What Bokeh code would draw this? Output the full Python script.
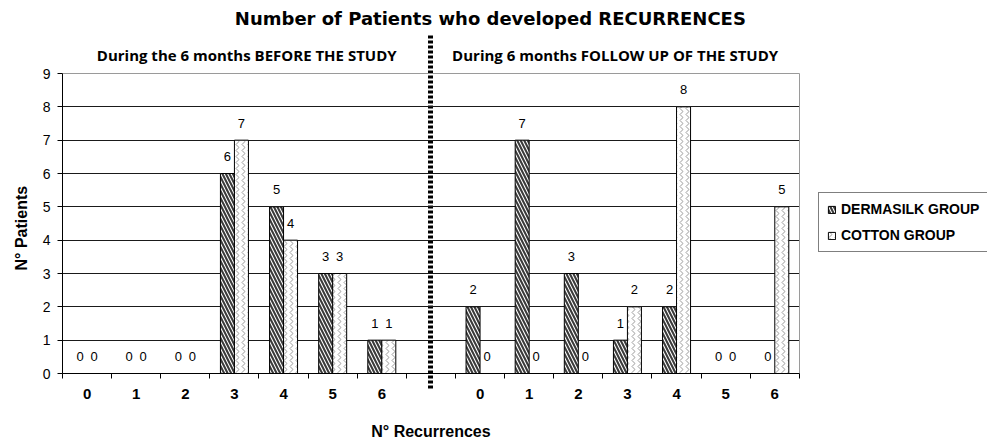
from bokeh.plotting import figure
from bokeh.models import (ColumnDataSource, FixedTicker, LinearAxis, Grid, Title,
                          Legend, LegendItem)
from bokeh.core.properties import value
from bokeh.embed import file_html
from bokeh.resources import INLINE

# ---- data ----
categories = ["0", "1", "2", "3", "4", "5", "6"]
before_dermasilk = [0, 0, 0, 6, 5, 3, 1]
before_cotton = [0, 0, 0, 7, 4, 3, 1]
after_dermasilk = [2, 7, 3, 1, 2, 0, 0]
after_cotton = [0, 0, 0, 2, 8, 0, 5]
series_names = ["DERMASILK GROUP", "COTTON GROUP"]
title_text = "Number of Patients who developed RECURRENCES"
subtitle_before = "During the 6 months BEFORE THE STUDY"
subtitle_after = "During 6 months FOLLOW UP OF THE STUDY"
x_title = "N° Recurrences"
y_title = "N° Patients"
y_ticks = list(range(10))

n = len(categories)
slots_before = [i + 0.5 for i in range(n)]
slots_after = [n + 1 + i + 0.5 for i in range(n)]
centers = slots_before + slots_after
derm_vals = before_dermasilk + after_dermasilk
cot_vals = before_cotton + after_cotton
total_slots = 2 * n + 1
divider = n + 0.5
y_max = y_ticks[-1]
bw = 0.285

derm_src = ColumnDataSource(dict(x=[c - bw / 2 for c in centers], top=derm_vals,
                                 lbl=[str(v) for v in derm_vals]))
cot_src = ColumnDataSource(dict(x=[c + bw / 2 for c in centers], top=cot_vals,
                                lbl=[str(v) for v in cot_vals]))

p = figure(width=987, height=445, output_backend="svg", toolbar_location=None,
           x_range=(0, 18.83), y_range=(0, 11.19),
           min_border_left=62, min_border_right=0, min_border_top=0,
           min_border_bottom=72)
p.background_fill_color = "white"
p.border_fill_color = "white"
p.outline_line_color = None

r1 = p.vbar(x="x", top="top", width=bw, bottom=0, source=derm_src,
            fill_color="white", line_color="black", line_width=1,
            hatch_pattern="\\", hatch_color="#3a3a3a", hatch_weight=2.1, hatch_scale=7)
r2 = p.vbar(x="x", top="top", width=bw, bottom=0, source=cot_src,
            fill_color="white", line_color="black", line_width=1,
            hatch_pattern=">", hatch_color="#9a9a9a", hatch_weight=1, hatch_scale=6)

for src in (derm_src, cot_src):
    p.text(x="x", y="top", text="lbl", source=src, y_offset=-17,
           text_align="center", text_baseline="middle",
           text_font=value("Liberation Sans"), text_font_size="13px",
           text_color="black")

# ---- x axes: tick/divider axis + category label axis + title axis ----
xa = p.xaxis[0]
xa.bounds = (0, total_slots)
xa.ticker = FixedTicker(ticks=[divider], minor_ticks=list(range(total_slots + 1)))
xa.major_label_overrides = {divider: ""}
xa.major_tick_out = 15
xa.major_tick_in = 0
xa.major_tick_line_width = 5
xa.major_tick_line_dash = "3 2"
xa.major_tick_line_color = "black"
xa.minor_tick_out = 5
xa.minor_tick_in = 0
xa.minor_tick_line_color = "black"
xa.axis_line_color = "black"
xa.major_label_standoff = 0
xa.major_label_text_font_size = "0px"

xl = LinearAxis(bounds=(0, total_slots),
                ticker=FixedTicker(ticks=centers, minor_ticks=[]))
xl.major_label_overrides = {c: lab for c, lab in zip(centers, categories + categories)}
xl.axis_line_color = None
xl.major_tick_line_color = None
xl.major_tick_out = 0
xl.major_tick_in = 0
xl.minor_tick_line_color = None
xl.major_label_standoff = 0
xl.major_label_text_font = "Liberation Sans"
xl.major_label_text_font_style = "bold"
xl.major_label_text_font_size = "15px"
xl.major_label_text_color = "black"
p.add_layout(xl, "below")

xt = LinearAxis(bounds=(0, total_slots),
                ticker=FixedTicker(ticks=[divider], minor_ticks=[]))
xt.major_label_overrides = {divider: x_title}
xt.axis_line_color = None
xt.major_tick_line_color = None
xt.major_tick_out = 0
xt.major_tick_in = 0
xt.minor_tick_line_color = None
xt.major_label_standoff = 21
xt.major_label_text_font = "Liberation Sans"
xt.major_label_text_font_style = "bold"
xt.major_label_text_font_size = "16px"
xt.major_label_text_color = "black"
p.add_layout(xt, "below")

# ---- y axis ----
ya = p.yaxis[0]
ya.bounds = (0, y_max)
ya.ticker = FixedTicker(ticks=y_ticks)
ya.major_tick_out = 5
ya.major_tick_in = 0
ya.minor_tick_line_color = None
ya.axis_line_color = "black"
ya.major_tick_line_color = "black"
ya.major_label_standoff = 7
ya.major_label_text_font = "Liberation Sans"
ya.major_label_text_font_size = "14px"
ya.major_label_text_color = "black"

p.add_layout(Title(text=y_title, align="left", offset=103, standoff=20,
                   text_font="Liberation Sans", text_font_style="bold",
                   text_font_size="16px", text_color="black"), "left")

# ---- grids, plot-area border and period divider ----
p.ygrid.ticker = FixedTicker(ticks=y_ticks[1:-1])
p.ygrid.cross_bounds = (0, total_slots)
p.ygrid.grid_line_color = "#1a1a1a"
p.ygrid.grid_line_width = 1

p.xgrid.ticker = FixedTicker(ticks=[divider])
p.xgrid.cross_bounds = (0, 10.17)
p.xgrid.grid_line_color = "black"
p.xgrid.grid_line_width = 5
p.xgrid.grid_line_dash = "3 2"

p.add_layout(Grid(dimension=1, ticker=FixedTicker(ticks=[y_max]),
                  cross_bounds=(0, total_slots), grid_line_color="#9a9a9a"))
p.add_layout(Grid(dimension=0, ticker=FixedTicker(ticks=[total_slots]),
                  cross_bounds=(0, y_max), grid_line_color="#9a9a9a"))

# ---- titles ----
p.text(x=[8.71], y=[10.65], text=[title_text], text_align="center",
       text_baseline="middle", text_font=value("DejaVu Sans"),
       text_font_style="bold", text_font_size="18px", text_color="black")
p.text(x=[divider / 2], y=[9.57], text=[subtitle_before], text_align="center",
       text_baseline="middle", text_font=value("Open Sans"),
       text_font_style="bold", text_font_size="15px", text_color="black")
p.text(x=[(divider + total_slots) / 2], y=[9.57], text=[subtitle_after],
       text_align="center", text_baseline="middle", text_font=value("Open Sans"),
       text_font_style="bold", text_font_size="15px", text_color="black")

# ---- legend ----
legend = Legend(items=[LegendItem(label=series_names[0], renderers=[r1]),
                       LegendItem(label=series_names[1], renderers=[r2])],
                location=(756, 121), orientation="vertical")
legend.glyph_width = 9
legend.glyph_height = 9
legend.label_standoff = 5
legend.label_height = 15
legend.spacing = 10
legend.padding = 8
legend.margin = 0
legend.border_line_color = "black"
legend.border_line_width = 1
legend.background_fill_color = "white"
legend.label_text_font = "Liberation Sans"
legend.label_text_font_style = "bold"
legend.label_text_font_size = "14px"
legend.label_text_color = "black"
p.add_layout(legend, "center")

open("out.html", "w").write(file_html(p, INLINE))
